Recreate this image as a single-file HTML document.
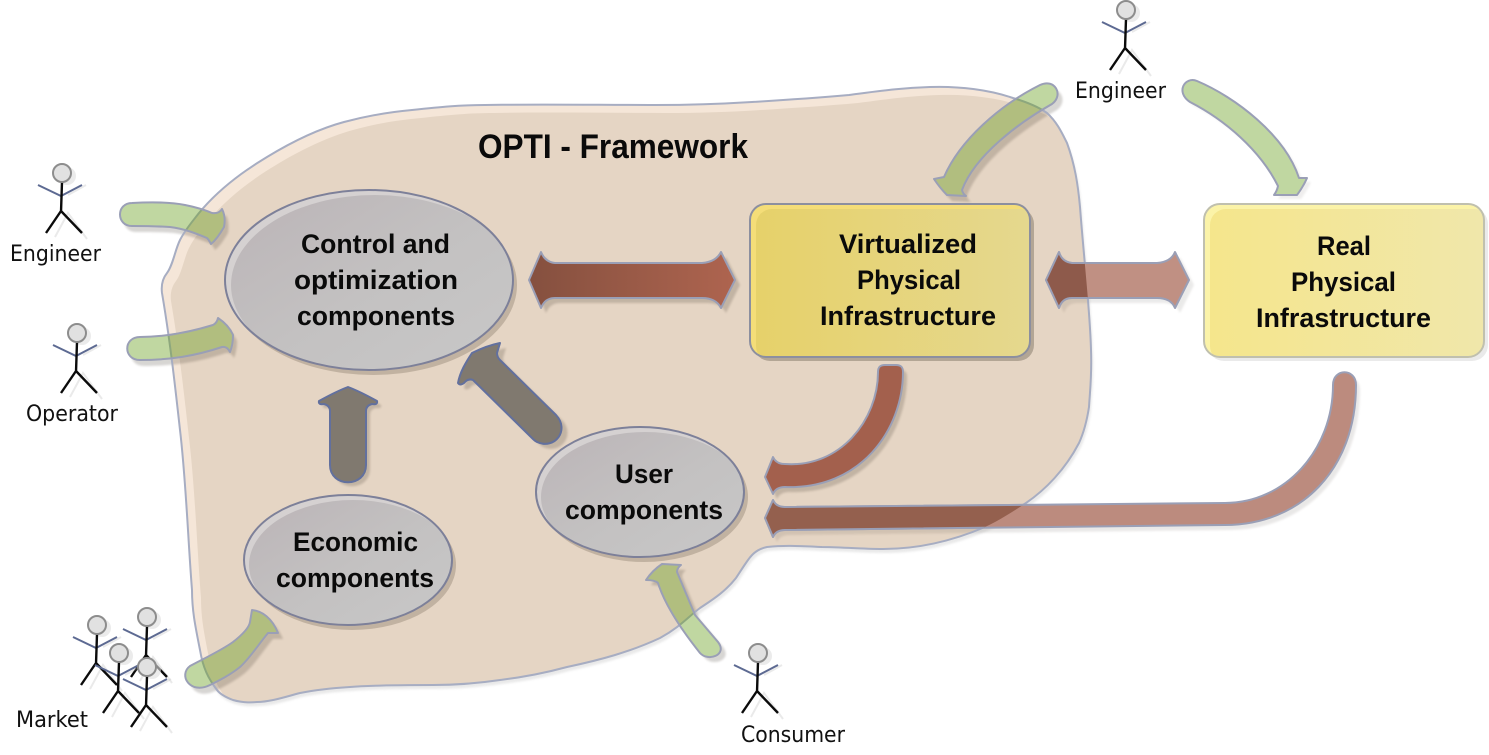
<!DOCTYPE html>
<html><head><meta charset="utf-8"><style>
html,body{margin:0;padding:0;background:#fff;width:1489px;height:755px;overflow:hidden}
svg{display:block}
.b{font:bold 27px "Liberation Sans",sans-serif;fill:#0a0a0a}
.l{font:22px "DejaVu Sans","Liberation Sans",sans-serif;fill:#111}
</style></head><body>
<svg width="1489" height="755" viewBox="0 0 1489 755" xmlns="http://www.w3.org/2000/svg">
<defs>
<filter id="bl" x="-20%" y="-20%" width="140%" height="140%"><feGaussianBlur stdDeviation="1.1"/></filter>
<path id="blob" d="M199 213C218 190 242 172 267 157C290 143 318 129 344 122C370 115 390 112 412 110C440 107 460 105 485 105C540 104 600 105 655 105C690 105 720 104 752 102C785 100 815 98 849 95C880 91 900 88 930 87C960 86 990 90 1013 98C1030 103 1040 108 1047 113C1057 122 1062 133 1067 143C1075 165 1078 185 1080 207C1084 260 1090 310 1091 350C1092 375 1090 390 1089 407C1087 420 1084 432 1079 443C1065 470 1045 490 1026 503C1012 512 1000 520 985 527C950 542 915 549 883 549C860 549 840 547 822 547C800 546 785 545 767 547C758 549 753 553 748 560C743 567 740 572 736 578C725 592 712 600 700 608C688 617 680 627 660 638C630 652 600 660 567 667C545 673 525 677 500 680C480 683 455 685 433 685C405 685 375 685 350 687C333 688 315 690 300 693C285 697 270 702 257 702C248 703 240 702 233 700C225 697 220 694 217 690C208 678 203 668 200 650C195 625 192 610 192 590C188 540 186 480 180 430C175 385 170 340 162 293C161 285 163 278 167 273C173 265 175 250 180 240C185 230 192 222 199 213Z"/>
<clipPath id="blobclip"><use href="#blob"/></clipPath>
<clipPath id="e1"><ellipse cx="369" cy="280" rx="144" ry="90"/></clipPath>
<clipPath id="e2"><ellipse cx="640" cy="492" rx="104" ry="65"/></clipPath>
<clipPath id="e3"><ellipse cx="348" cy="560" rx="104" ry="65"/></clipPath>
<clipPath id="r1c"><rect x="750" y="204" width="280" height="153" rx="16"/></clipPath>
<clipPath id="r2c"><rect x="1204" y="204" width="280" height="153" rx="16"/></clipPath>
<path id="a1" d="M132 203C150 202 170 202 185 205C195 207 205 210 212 213Q219 214 222 209C225 215 225 222 224 227C220 234 216 240 211 244Q209 240 207 238C195 233 185 229 170 227C155 226 145 226 132 226C116 226 116 203 132 203Z"/>
<path id="a2" d="M140 337C165 337 190 332 213 325Q217 323 218 318C224 322 230 328 233 335C233 341 232 347 230 352Q227 346 222 347C195 356 170 360 140 360C123 360 123 337 140 337Z"/>
<path id="a3" d="M190 666C205 658 222 650 233 642C242 635 249 628 250 622L252 610C262 611 272 618 278 633L268 633C258 645 250 658 240 667C230 675 220 680 210 685C190 695 178 675 190 666Z"/>
<path id="a4" d="M1040 85C1055 78 1064 95 1052 104C1020 122 975 155 962 190Q963 194 966 196L947 195C942 190 938 185 934 179L944 177C960 140 1000 105 1040 85Z"/>
<path id="a5" d="M1197 81C1235 97 1285 135 1299 178L1307 178C1304 185 1300 191 1297 195L1274 195Q1277 191 1278 186C1260 150 1225 120 1190 102C1175 92 1185 76 1197 81Z"/>
<path id="d1" d="M529 280L541 252Q545 262 555 263L702 263Q716 262 721 252L735 280L721 308Q716 298 702 298L555 298Q545 298 541 308Z"/>
<path id="d2" d="M1046 280L1059 252Q1062 262 1072 263L1157 263Q1171 262 1175 252L1189 280L1175 308Q1171 298 1157 298L1072 298Q1062 298 1059 308Z"/>
<path id="c1" d="M878 372C878 367 880 365 885 365L896 365C901 365 903 367 903 372C903 430 860 490 785 487Q776 487 773 494L765 477L773 457Q776 464 785 464C840 468 878 420 878 372Z"/>
<path id="c2" d="M1333 385C1333 450 1285 503 1225 503L785 507Q776 507 773 500L765 518L773 537Q776 530 785 530L1225 525C1300 525 1356 470 1356 385C1356 368 1333 368 1333 385Z"/>
<path id="g1" d="M348 387C356 390 368 396 377 401Q378 405 372 404C368 405 366 407 366 411L366 465C366 488 330 488 330 465L330 411C330 407 328 405 324 404Q318 405 319 401C328 396 340 390 348 387Z"/>
<path id="g2" d="M500 343L497 353Q497 357 500 360L556 415C570 430 555 450 537 442Q535 441 533 439L473 380Q468 378 464 383Q460 386 458 383C460 372 466 362 472 353C480 349 490 345 500 343Z"/>
<path id="g3" d="M662 564L681 565Q677 568 677 572L695 615L718 642C728 655 708 662 700 653C680 628 665 605 658 583Q655 580 646 580C650 574 656 568 662 564Z"/>
<g id="greens"><use href="#a1"/><use href="#a2"/><use href="#a3"/><use href="#a4"/><use href="#a5"/><use href="#g3"/></g>
<linearGradient id="el" x1="0" y1="0" x2="1" y2="1"><stop offset="0" stop-color="#bbb4b7"/><stop offset=".5" stop-color="#c3c1c1"/><stop offset="1" stop-color="#c8c8c8"/></linearGradient>
<linearGradient id="r1" x1="0" x2="1"><stop offset="0" stop-color="#85503f"/><stop offset="1" stop-color="#ae644f"/></linearGradient>
<linearGradient id="y1" x1="0" x2="1"><stop offset="0" stop-color="#e6d16a"/><stop offset="1" stop-color="#e5d88f"/></linearGradient>
<linearGradient id="y2" x1="0" x2="1"><stop offset="0" stop-color="#f5e68c"/><stop offset="1" stop-color="#f0e7ab"/></linearGradient>
<g id="p">
<g stroke="#bbb" stroke-opacity=".3" fill="none" stroke-width="2"><path d="M6 22L24 12M-7 64L6 40L25 66"/></g>
<circle cx="5" cy="3" r="9" fill="#ddd" opacity=".6"/>
<path d="M-24 12L-1 23L20 12" fill="none" stroke="#5d6a92" stroke-width="2"/>
<path d="M0 9L-1 39M-1 38L-16 60M-1 38L20 60" fill="none" stroke="#0b0b0b" stroke-width="2.4"/>
<circle cx="0" cy="0" r="9" fill="#e1e1e1" stroke="#8d8d8d" stroke-width="2"/>
</g>
</defs>

<use href="#blob" fill="#888" opacity=".18" transform="translate(2 4)" filter="url(#bl)"/>
<use href="#blob" fill="#f5e6d8"/>
<g clip-path="url(#blobclip)"><use href="#blob" fill="#e5d5c4" transform="translate(9 8)"/></g>

<!-- shadows -->
<g fill="#3a3028" opacity=".2" filter="url(#bl)">
<use href="#a1" transform="translate(4 6)"/><use href="#a2" transform="translate(4 6)"/><use href="#a3" transform="translate(5 6)"/>
<use href="#a4" transform="translate(5 6)"/><use href="#a5" transform="translate(4 4)" opacity=".4"/>
<use href="#c1" transform="translate(4 5)"/><use href="#c2" transform="translate(4 5)" opacity=".55"/>
<use href="#g1" transform="translate(4 4)"/><use href="#g2" transform="translate(6 5)"/><use href="#g3" transform="translate(5 5)"/>
<use href="#d1" transform="translate(5 5)"/><use href="#d2" transform="translate(5 5)" opacity=".5"/>
</g>

<!-- remove shadow showing through translucent green arrows -->
<use href="#greens" fill="#fff"/>
<use href="#greens" fill="#e5d5c4" clip-path="url(#blobclip)"/>
<use href="#blob" fill="none" stroke="#a7adc2" stroke-width="2"/>

<!-- ellipses + boxes -->
<g fill="#7a6a5a" opacity=".33">
<ellipse cx="373" cy="285" rx="144" ry="90"/><ellipse cx="644" cy="497" rx="104" ry="65"/><ellipse cx="352" cy="565" rx="104" ry="65"/>
</g>
<rect x="754" y="208" width="280" height="153" rx="16" fill="#6a6050" opacity=".4"/>
<rect x="1208" y="208" width="280" height="153" rx="16" fill="#bbb" opacity=".3"/>
<ellipse cx="369" cy="280" rx="144" ry="90" fill="#d5d1d1"/>
<ellipse cx="640" cy="492" rx="104" ry="65" fill="#d5d1d1"/>
<ellipse cx="348" cy="560" rx="104" ry="65" fill="#d5d1d1"/>
<ellipse cx="375" cy="285" rx="144" ry="90" fill="url(#el)" clip-path="url(#e1)"/>
<ellipse cx="645" cy="497" rx="104" ry="65" fill="url(#el)" clip-path="url(#e2)"/>
<ellipse cx="353" cy="565" rx="104" ry="65" fill="url(#el)" clip-path="url(#e3)"/>
<g fill="none" stroke="#7d8099" stroke-width="2">
<ellipse cx="369" cy="280" rx="144" ry="90"/><ellipse cx="640" cy="492" rx="104" ry="65"/><ellipse cx="348" cy="560" rx="104" ry="65"/>
</g>
<rect x="750" y="204" width="280" height="153" rx="16" fill="#f4dd78"/>
<rect x="756" y="209" width="280" height="153" rx="16" fill="url(#y1)" clip-path="url(#r1c)"/>
<rect x="750" y="204" width="280" height="153" rx="16" fill="none" stroke="#8c8f9f" stroke-width="2"/>
<rect x="1204" y="204" width="280" height="153" rx="16" fill="#fbf3a8"/>
<rect x="1210" y="209" width="280" height="153" rx="16" fill="url(#y2)" clip-path="url(#r2c)"/>
<rect x="1204" y="204" width="280" height="153" rx="16" fill="none" stroke="#c0c0ae" stroke-width="2"/>

<!-- arrows -->
<g stroke="#9a9fb6" stroke-width="2" stroke-linejoin="round">
<use href="#greens" fill="#6aa020" fill-opacity=".42"/>
<use href="#c1" fill="#a3604d"/>
<use href="#c2" fill="#bc8b7e"/>
<use href="#c2" fill="#94604e" clip-path="url(#blobclip)"/>
<g fill="#80796f" stroke="#62709e"><use href="#g1"/><use href="#g2"/></g>
<use href="#d1" fill="url(#r1)"/>
<use href="#d2" fill="#c09083"/>
<use href="#d2" fill="#8e5a4b" clip-path="url(#blobclip)"/>
</g>

<!-- people -->
<use href="#p" transform="translate(62 173)"/>
<use href="#p" transform="translate(77 333)"/>
<use href="#p" transform="translate(1126 10)"/>
<use href="#p" transform="translate(758 653)"/>
<use href="#p" transform="translate(97 625)"/>
<use href="#p" transform="translate(147 617)"/>
<use href="#p" transform="translate(119 653)"/>
<use href="#p" transform="translate(147 667)"/>

<!-- text -->
<text class="b" x="478" y="158" style="font-size:34px" textLength="270" lengthAdjust="spacingAndGlyphs">OPTI - Framework</text>
<text class="b" x="301" y="253" textLength="149" lengthAdjust="spacingAndGlyphs">Control and</text>
<text class="b" x="294" y="289" textLength="164" lengthAdjust="spacingAndGlyphs">optimization</text>
<text class="b" x="297" y="325" textLength="158" lengthAdjust="spacingAndGlyphs">components</text>
<text class="b" x="839" y="253" textLength="138" lengthAdjust="spacingAndGlyphs">Virtualized</text>
<text class="b" x="857" y="289" textLength="104" lengthAdjust="spacingAndGlyphs">Physical</text>
<text class="b" x="820" y="325" textLength="176" lengthAdjust="spacingAndGlyphs">Infrastructure</text>
<text class="b" x="1317" y="255" textLength="54" lengthAdjust="spacingAndGlyphs">Real</text>
<text class="b" x="1291" y="291" textLength="105" lengthAdjust="spacingAndGlyphs">Physical</text>
<text class="b" x="1256" y="327" textLength="175" lengthAdjust="spacingAndGlyphs">Infrastructure</text>
<text class="b" x="615" y="483" textLength="58" lengthAdjust="spacingAndGlyphs">User</text>
<text class="b" x="565" y="519" textLength="158" lengthAdjust="spacingAndGlyphs">components</text>
<text class="b" x="293" y="551" textLength="125" lengthAdjust="spacingAndGlyphs">Economic</text>
<text class="b" x="276" y="587" textLength="158" lengthAdjust="spacingAndGlyphs">components</text>
<text class="l" x="10" y="261" textLength="91" lengthAdjust="spacingAndGlyphs">Engineer</text>
<text class="l" x="26" y="421" textLength="92" lengthAdjust="spacingAndGlyphs">Operator</text>
<text class="l" x="1075" y="98" textLength="91" lengthAdjust="spacingAndGlyphs">Engineer</text>
<text class="l" x="16" y="727" textLength="72" lengthAdjust="spacingAndGlyphs">Market</text>
<text class="l" x="741" y="742" textLength="104" lengthAdjust="spacingAndGlyphs">Consumer</text>
</svg>
</body></html>
